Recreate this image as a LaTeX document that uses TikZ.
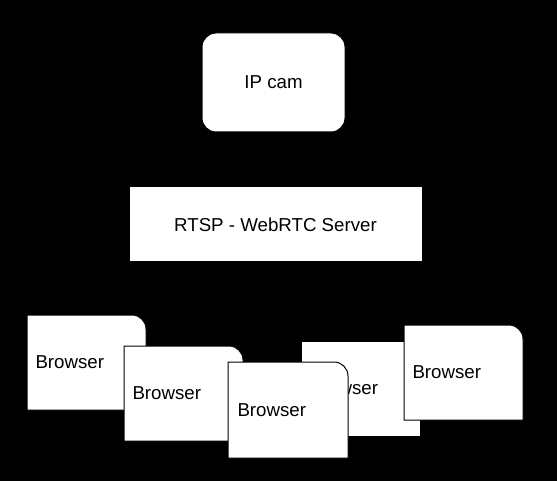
\documentclass[tikz,border=0pt]{standalone}
\usepackage{fontspec}
\setmainfont{Liberation Sans}
\usepackage{tikz}

\begin{document}
\begin{tikzpicture}[x=1pt,y=-1pt,
		box/.style={draw=black,fill=white,line width=1pt},
		label/.style={font=\fontsize{18.7}{22}\selectfont,inner sep=0pt},
		browserlabel/.style={label,anchor=west}]
			\useasboundingbox[fill=black] (0,0) rectangle (557,481);
			% top of the chain
			\node[box,rounded corners=14pt,minimum width=143pt,minimum height=99pt,label](cam) at (273.5,82.5) {IP cam};
			\node[box,minimum width=293pt,minimum height=75pt,label](server) at (275.5,224.5) {RTSP - WebRTC Server};
			% browsers, back to front
			\filldraw[box] (27,315) -- ++(0,95) -- ++(119,0) -- ++(0,-81) arc[start angle=0,end angle=-90,radius=14] -- cycle
				node[browserlabel](browserA) at (35,362.5) {Browser};
			\filldraw[box] (124,346) -- ++(0,95) -- ++(119,0) -- ++(0,-81) arc[start angle=0,end angle=-90,radius=14] -- cycle
				node[browserlabel](browserB) at (132,393.5) {Browser};
			\filldraw[box] (301,341) -- ++(0,95) -- ++(119,0) -- ++(0,-95) -- cycle
				node[browserlabel](browserD) at (309,388.5) {Browser};
			\filldraw[box] (404,325) -- ++(0,95) -- ++(119,0) -- ++(0,-81) arc[start angle=0,end angle=-90,radius=14] -- cycle
				node[browserlabel](browserE) at (412,372.5) {Browser};
			\filldraw[box] (228,362) -- ++(0,96) -- ++(120,0) -- ++(0,-82) arc[start angle=0,end angle=-90,radius=14] -- cycle
				node[browserlabel](browserC) at (237,410) {Browser};
		\end{tikzpicture}
\end{document}
